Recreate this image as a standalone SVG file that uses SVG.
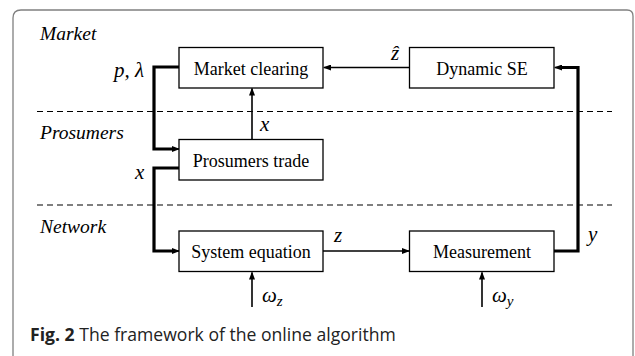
<svg xmlns="http://www.w3.org/2000/svg" width="635" height="356" viewBox="0 0 635 356">
<defs>
<marker id="ah" markerWidth="8" markerHeight="6" refX="7" refY="3" orient="auto" markerUnits="userSpaceOnUse">
<path d="M0,0 L8,3 L0,6 Z" fill="#000"/>
</marker>
<style>
.box{fill:#fff;stroke:#000;stroke-width:1.3}
.bt{font-family:"Liberation Serif",serif;font-size:18px;text-anchor:middle;fill:#000}
.lane{font-family:"Liberation Serif",serif;font-style:italic;font-size:19.5px;fill:#000}
.m{font-family:"Liberation Serif",serif;font-style:italic;font-size:21px;fill:#000}
.thin{fill:none;stroke:#000;stroke-width:1.6}
.thick{fill:none;stroke:#000;stroke-width:3.2}
.dash{stroke:#000;stroke-width:1.2;stroke-dasharray:6,4}
</style>
</defs>
<rect width="635" height="356" fill="#fff"/>
<path d="M13,360 L13,18 Q13,10 21,10 L627,10 Q633,10 633,16 L633,360" fill="none" stroke="#808080" stroke-width="1.3"/>
<line class="dash" x1="37" y1="111.5" x2="612" y2="111.5"/>
<line class="dash" x1="37" y1="205" x2="612" y2="205"/>
<text class="lane" x="40" y="40">Market</text>
<text class="lane" x="40" y="139">Prosumers</text>
<text class="lane" x="40" y="233">Network</text>
<g id="connectors">
<line class="thin" x1="409" y1="67.5" x2="324" y2="67.5" marker-end="url(#ah)"/>
<line class="thin" x1="252" y1="139" x2="252" y2="88.5" marker-end="url(#ah)"/>
<path class="thick" d="M179,67 L154,67 L154,149 L172,149"/>
<line class="thin" x1="170" y1="149" x2="179" y2="149" marker-end="url(#ah)"/>
<path class="thick" d="M179,168 L154,168 L154,251 L172,251"/>
<line class="thin" x1="170" y1="251" x2="179" y2="251" marker-end="url(#ah)"/>
<line class="thin" x1="323" y1="251" x2="409" y2="251" marker-end="url(#ah)"/>
<path class="thick" d="M554,251 L578,251 L578,67.5 L562,67.5"/>
<line class="thin" x1="564" y1="67.5" x2="555" y2="67.5" marker-end="url(#ah)"/>
<line class="thin" x1="252" y1="307" x2="252" y2="272.5" marker-end="url(#ah)"/>
<line class="thin" x1="482" y1="307" x2="482" y2="272.5" marker-end="url(#ah)"/>
</g>
<g id="market-clearing"><rect class="box" x="179" y="47.5" width="144" height="40.5"/><text class="bt" x="251" y="75">Market clearing</text></g>
<g id="dynamic-se"><rect class="box" x="409.5" y="47.5" width="144.5" height="40.5"/><text class="bt" x="482" y="75">Dynamic SE</text></g>
<g id="prosumers-trade"><rect class="box" x="179" y="139.5" width="144" height="40.5"/><text class="bt" x="251" y="167">Prosumers trade</text></g>
<g id="system-equation"><rect class="box" x="179" y="231" width="144" height="40.5"/><text class="bt" x="251" y="258">System equation</text></g>
<g id="measurement"><rect class="box" x="409.5" y="231" width="144.5" height="40.5"/><text class="bt" x="482" y="258">Measurement</text></g>
<text class="m" x="114" y="77">p, λ</text>
<text class="m" x="391" y="60">ẑ</text>
<text class="m" x="260" y="131">x</text>
<text class="m" x="135" y="179">x</text>
<text class="m" x="334" y="242">z</text>
<text class="m" x="588" y="241">y</text>
<text class="m" x="262" y="302">ω<tspan font-size="15" dy="4">z</tspan></text>
<text class="m" x="492" y="302">ω<tspan font-size="15" dy="4">y</tspan></text>
<text x="30" y="340.5" font-family="'Open Sans',sans-serif" font-size="17.6" fill="#222"><tspan font-weight="bold">Fig. 2</tspan> The framework of the online algorithm</text>
</svg>
